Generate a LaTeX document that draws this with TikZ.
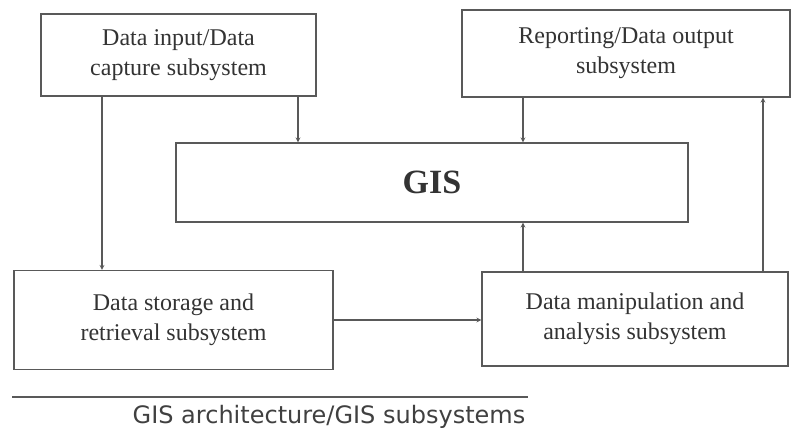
\documentclass[tikz,border=0pt]{standalone}
\usepackage{fontspec}
\setmainfont{Liberation Serif}
\newfontfamily\capfont{DejaVu Sans}
\usetikzlibrary{arrows}

\tikzset{
    box/.style={draw=black!65, line width=1.2pt, text=black!80, align=center,
        font=\fontsize{24}{30}\selectfont, inner sep=0pt},
    flow/.style={->, >=stealth, draw=black!65, line width=1.2pt},
}

\begin{document}
\begin{tikzpicture}[x=1pt,y=-1pt]
\useasboundingbox (0,0) rectangle (792,437);

\node[box, minimum width=275, minimum height=82] (input) at (178.5,55) {Data input/Data\\capture subsystem};
\node[box, minimum width=328, minimum height=87] (report) at (626,53.5) {Reporting/Data output\\subsystem};
\node[box, minimum width=512, minimum height=79, font=\fontsize{34}{38}\selectfont\bfseries] (gis) at (432,182.5) {GIS};
\node[box, minimum width=319, minimum height=99] (store) at (173.5,320) {Data storage and\\retrieval subsystem};
\node[box, minimum width=306, minimum height=94] (manip) at (635,319) {Data manipulation and\\analysis subsystem};

\draw[flow] ([xshift=119.5]input.south) -- ([xshift=119.5]input.south |- gis.north);
\draw[flow] ([xshift=-76.5]input.south) -- ([xshift=-76.5]input.south |- store.north);
\draw[flow] ([xshift=-103]report.south) -- ([xshift=-103]report.south |- gis.north);
\draw[flow] ([xshift=-112]manip.north) -- ([xshift=-112]manip.north |- gis.south);
\draw[flow] ([xshift=128]manip.north) -- ([xshift=128]manip.north |- report.south);
\draw[flow] (store.east) -- (store.east -| manip.west);

% caption under a rule
\draw[black!65, line width=1.2pt] (12,397) -- (528,397);
\node[anchor=base, text=black!75, font=\capfont\fontsize{24}{28}\selectfont] (caption) at (329,423) {GIS architecture/GIS subsystems};
\end{tikzpicture}
\end{document}
